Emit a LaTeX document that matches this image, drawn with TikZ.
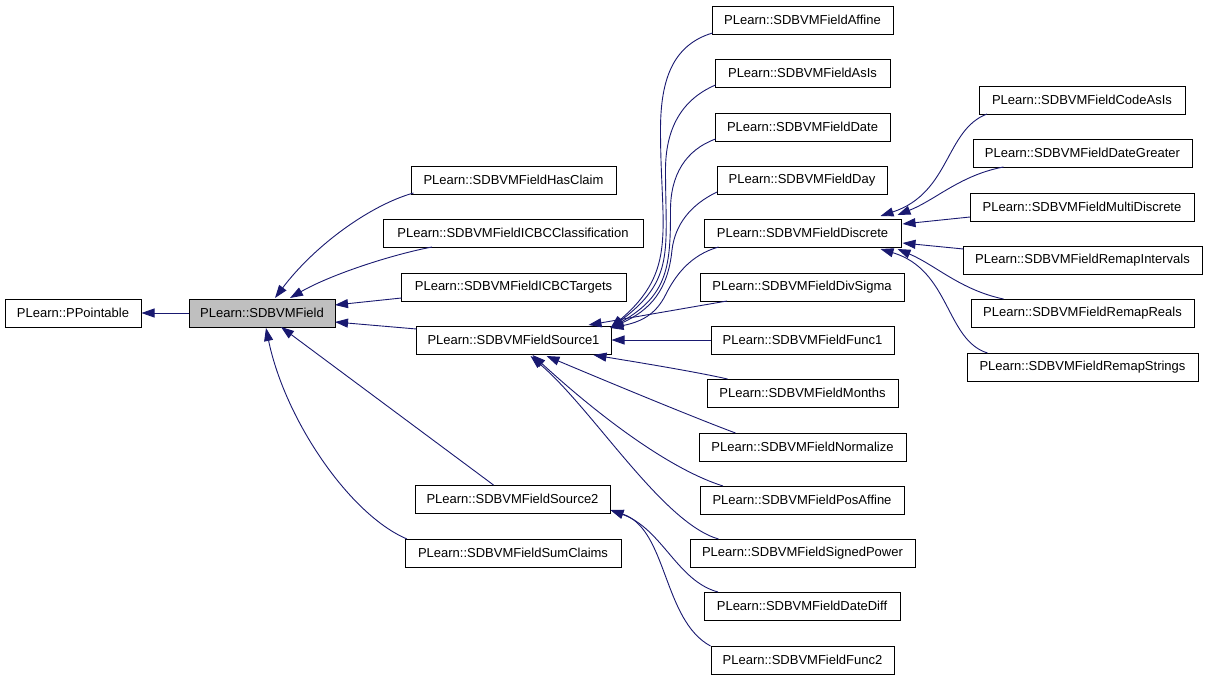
\documentclass[tikz,border=0pt]{standalone}
\usepackage{fontspec}
\setmainfont{Liberation Sans}
\usetikzlibrary{arrows.meta,calc}
\definecolor{edgeblue}{HTML}{191970}
\definecolor{boxgray}{HTML}{BFBFBF}
\begin{document}
\begin{tikzpicture}[x=1pt,y=-1pt,
  box/.style={draw=black,line width=1pt,rectangle,minimum height=28pt,inner sep=0pt,font=\fontsize{13pt}{15pt}\selectfont},
  edge/.style={draw=edgeblue,line width=0.9pt,-{Triangle[length=13pt,width=9pt]}}]
\useasboundingbox (0,0) rectangle (1208,680);
% column 1-2
\node[box,minimum width=136pt] (pp) at (73,313) {PLearn::PPointable};
\node[box,minimum width=146pt,fill=boxgray] (f) at (262,313) {PLearn::SDBVMField};
% column 3
\node[box,minimum width=205pt] (hc) at (513.5,180) {PLearn::SDBVMFieldHasClaim};
\node[box,minimum width=260pt] (icc) at (513,233) {PLearn::SDBVMFieldICBCClassification};
\node[box,minimum width=225pt] (ict) at (513.5,287) {PLearn::SDBVMFieldICBCTargets};
\node[box,minimum width=195pt] (s1) at (513.5,340) {PLearn::SDBVMFieldSource1};
\node[box,minimum width=195pt] (s2) at (512.5,499) {PLearn::SDBVMFieldSource2};
\node[box,minimum width=216pt] (sc) at (513,553) {PLearn::SDBVMFieldSumClaims};
% column 4
\node[box,minimum width=181pt] (af) at (802.5,20) {PLearn::SDBVMFieldAffine};
\node[box,minimum width=175pt] (asis) at (802.5,73) {PLearn::SDBVMFieldAsIs};
\node[box,minimum width=175pt] (date) at (802.5,127) {PLearn::SDBVMFieldDate};
\node[box,minimum width=170pt] (day) at (802,180) {PLearn::SDBVMFieldDay};
\node[box,minimum width=197pt] (disc) at (802.5,233) {PLearn::SDBVMFieldDiscrete};
\node[box,minimum width=204pt] (divs) at (802,287) {PLearn::SDBVMFieldDivSigma};
\node[box,minimum width=183pt] (func1) at (802.5,340) {PLearn::SDBVMFieldFunc1};
\node[box,minimum width=191pt] (mon) at (802.5,393) {PLearn::SDBVMFieldMonths};
\node[box,minimum width=207pt] (norm) at (802.5,447) {PLearn::SDBVMFieldNormalize};
\node[box,minimum width=204pt] (posa) at (802,500) {PLearn::SDBVMFieldPosAffine};
\node[box,minimum width=225pt] (sp) at (802.5,553) {PLearn::SDBVMFieldSignedPower};
\node[box,minimum width=196pt] (dd) at (802,606) {PLearn::SDBVMFieldDateDiff};
\node[box,minimum width=183pt] (func2) at (802.5,660) {PLearn::SDBVMFieldFunc2};
% column 5
\node[box,minimum width=206pt] (cai) at (1082,100) {PLearn::SDBVMFieldCodeAsIs};
\node[box,minimum width=219pt] (dg) at (1082.5,153) {PLearn::SDBVMFieldDateGreater};
\node[box,minimum width=224pt] (md) at (1082,207) {PLearn::SDBVMFieldMultiDiscrete};
\node[box,minimum width=239pt] (ri) at (1082.5,260) {PLearn::SDBVMFieldRemapIntervals};
\node[box,minimum width=223pt] (rr) at (1082.5,313) {PLearn::SDBVMFieldRemapReals};
\node[box,minimum width=231pt] (rs) at (1082.5,367) {PLearn::SDBVMFieldRemapStrings};
% edges to PPointable
\draw[edge] (f.west) -- (pp.east);
% edges to SDBVMField
\draw[edge] ($(hc)+(-100,13)$) .. controls ($(hc)+(-143,25)$) and ($(f)+(53,-68)$) .. ($(f)+(13,-15)$);
\draw[edge] ($(icc)+(-81,14)$) .. controls ($(icc)+(-123,22)$) and ($(f)+(68,-38)$) .. ($(f)+(28,-15)$);
\draw[edge] ($(ict)+(-112,11)$) -- ($(f)+(73,-8)$);
\draw[edge] ($(s1)+(-97,-11)$) -- ($(f)+(73,9)$);
\draw[edge] ($(s2)+(-19,-14)$) -- ($(f)+(19,14)$);
\draw[edge] ($(sc)+(-106,-14)$) .. controls ($(sc)+(-163,-38)$) and ($(f)+(23,107)$) .. ($(f)+(4,15)$);
% edges to Source1
\draw[edge] ($(af)+(-90,13)$) .. controls ($(af)+(-130,25)$) and ($(af)+(-142,60)$) .. ($(af)+(-142,110)$)
   .. controls ($(af)+(-142,210)$) and ($(s1)+(165,-70)$) .. ($(s1)+(97,-12)$);
\draw[edge] ($(asis)+(-87,12)$) .. controls ($(asis)+(-122,27)$) and ($(asis)+(-137,57)$) .. ($(asis)+(-137,97)$)
   .. controls ($(asis)+(-137,177)$) and ($(s1)+(162,-60)$) .. ($(s1)+(97,-12)$);
\draw[edge] ($(date)+(-87,12)$) .. controls ($(date)+(-117,23)$) and ($(date)+(-132,48)$) .. ($(date)+(-132,83)$)
   .. controls ($(date)+(-132,138)$) and ($(s1)+(155,-45)$) .. ($(s1)+(97,-12)$);
\draw[edge] ($(day)+(-85,12)$) .. controls ($(day)+(-112,25)$) and ($(day)+(-127,45)$) .. ($(day)+(-130,70)$)
   .. controls ($(day)+(-134,110)$) and ($(s1)+(137,-30)$) .. ($(s1)+(97,-12)$);
\draw[edge] ($(disc)+(-84,14)$) .. controls ($(disc)+(-112,22)$) and ($(disc)+(-127,42)$) .. ($(disc)+(-137,62)$)
   .. controls ($(disc)+(-147,82)$) and ($(s1)+(127,-18)$) .. ($(s1)+(97,-12)$);
\draw[edge] ($(divs)+(-75,14)$) -- ($(s1)+(75,-15)$);
\draw[edge] (func1.west) -- (s1.east);
\draw[edge] ($(mon)+(-75,-14)$) .. controls ($(mon)+(-110,-22)$) and ($(s1)+(110,20)$) .. ($(s1)+(80,15)$);
\draw[edge] ($(norm)+(-67,-14)$) .. controls ($(norm)+(-110,-30)$) and ($(s1)+(90,40)$) .. ($(s1)+(33,16)$);
\draw[edge] ($(posa)+(-79,-14)$) .. controls ($(posa)+(-130,-30)$) and ($(s1)+(90,80)$) .. ($(s1)+(19,15)$);
\draw[edge] ($(sp)+(-84,-14)$) .. controls ($(sp)+(-140,-30)$) and ($(s1)+(80,70)$) .. ($(s1)+(17,16)$);
% edges to Source2
\draw[edge] ($(dd)+(-84,-14)$) .. controls ($(dd)+(-125,-25)$) and ($(s2)+(150,30)$) .. ($(s2)+(98,11)$);
\draw[edge] ($(func2)+(-92,-14)$) .. controls ($(func2)+(-140,-40)$) and ($(s2)+(155,30)$) .. ($(s2)+(98,11)$);
% edges to Discrete
\draw[edge] ($(cai)+(-95,14)$) .. controls ($(cai)+(-137,30)$) and ($(disc)+(148,-40)$) .. ($(disc)+(78,-17)$);
\draw[edge] ($(dg)+(-79,14)$) .. controls ($(dg)+(-122,22)$) and ($(disc)+(133,-33)$) .. ($(disc)+(95,-18)$);
\draw[edge] ($(md)+(-112,10)$) -- ($(disc)+(100,-9)$);
\draw[edge] ($(ri)+(-119,-11)$) -- ($(disc)+(100,10)$);
\draw[edge] ($(rr)+(-79,-14)$) .. controls ($(rr)+(-122,-23)$) and ($(disc)+(133,32)$) .. ($(disc)+(95,16)$);
\draw[edge] ($(rs)+(-95,-14)$) .. controls ($(rs)+(-137,-27)$) and ($(disc)+(148,37)$) .. ($(disc)+(78,16)$);
\end{tikzpicture}
\end{document}
